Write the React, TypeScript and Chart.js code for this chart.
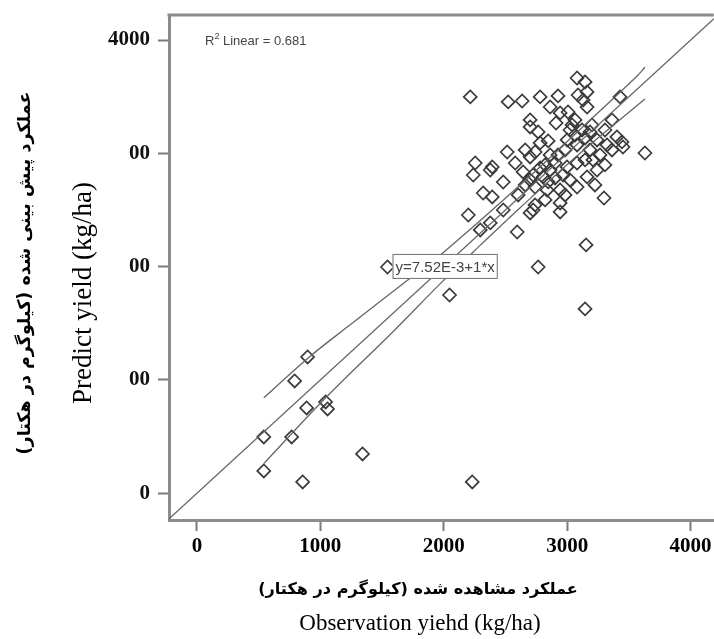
import React, { useEffect, useRef } from "react";
import { Chart, registerables } from "chart.js";

Chart.register(...registerables);

// ---- axis ticks ----
const xTicks = [0, 1000, 2000, 3000, 4000];
const xTickLabels = ["0", "1000", "2000", "3000", "4000"];
const yTicks = [0, 1000, 2000, 3000, 4000];
const yTickLabels = ["0", "00", "00", "00", "4000"];

// ---- observed (x) vs predicted (y) yield, kg/ha ----
const obsX = [
  542, 542, 768, 857, 889, 792, 897, 1043, 1059, 1342, 2231, 1544, 2047, 2765, 3153, 3145, 3298, 3630, 2595, 2215,
  2522, 2635, 2781, 2926, 3080, 3145, 3161, 3129, 3161, 2862, 2943, 3007, 2700, 2700, 2765, 3428, 3363, 3444,
  2514, 2255, 2239, 2377, 2579, 2660, 2700, 2482, 2320, 2393, 2199, 2724, 2943, 2943, 2643, 2724, 2805, 2862,
  2999, 3080, 3145, 3209, 3242, 3161, 3080, 2943, 2837, 2740, 3023, 3120, 3185, 3000, 3080, 3242, 3323, 3403,
  3452, 2296, 2377, 2926, 2862, 2740, 2821, 2902, 2660, 2781, 2983, 3064, 2482, 2700, 2740, 3306, 3088, 2393,
  3064, 3145, 3040, 3201, 2781, 2846, 2700, 2902, 2967, 3023, 3185, 3266, 2603, 2821, 2983, 3225, 3306, 3363,
  2910, 2846,
];
const predY = [
  497, 197, 497, 100, 753, 991, 1203, 806, 744, 347, 100, 1997, 1750, 1997, 2192, 1627, 2606, 3003, 2306, 3498,
  3454, 3462, 3498, 3507, 3665, 3630, 3542, 3471, 3409, 3409, 3357, 3365, 3295, 3233, 3189, 3498, 3295, 3101,
  3012, 2915, 2809, 2853, 2915, 3030, 2968, 2747, 2650, 2615, 2456, 2500, 2483, 2562, 2836, 2809, 2792, 2853,
  2880, 2915, 2942, 2942, 2853, 2792, 2703, 2677, 2677, 2703, 3206, 3206, 3189, 3118, 3074, 3118, 3074, 3145,
  3056, 2324, 2386, 2986, 2986, 3012, 2898, 2783, 2721, 3092, 3030, 3295, 2500, 2474, 2545, 3206, 3515, 2880,
  3162, 3136, 3251, 3251, 2871, 2748, 2765, 2915, 2809, 2765, 3030, 2986, 2633, 2589, 2633, 2721, 2898, 3030,
  3268, 3110,
];

// ---- fitted line y = 7.52E-3 + 1*x ----
const fitX = [-240, 4260];
const fitY = [-240, 4260];

// ---- confidence band curves ----
const upperX = [542, 897, 1221, 1706, 1997, 2619, 3104, 3565, 3630];
const upperY = [842, 1190, 1470, 1880, 2125, 2720, 3210, 3680, 3760];
const lowerX = [542, 1059, 1593, 1972, 2239, 2619, 3104, 3630];
const lowerY = [262, 860, 1430, 1850, 2130, 2520, 3000, 3480];

// ---- texts ----
const xTitleFa = "عملکرد مشاهده شده (کیلوگرم در هکتار)";
const xTitleEn = "Observation yiehd (kg/ha)";
const yTitleFa = "عملکرد پیش بینی شده (کیلوگرم در هکتار)";
const yTitleEn = "Predict yield (kg/ha)";
const r2Label = "R";
const r2Sup = "2";
const r2Rest = " Linear = 0.681";
const eqText = "y=7.52E-3+1*x";

const serif = '"Liberation Serif", "Times New Roman", serif';
const sans = '"Liberation Sans", Arial, sans-serif';
const faFont = '"DejaVu Sans", sans-serif';

const pts = (xs: number[], ys: number[]) => xs.map((x, i) => ({ x, y: ys[i] }));

const decorPlugin = {
  id: "decor",
  afterDatasetsDraw(chart: any) {
    const { ctx, scales } = chart;
    ctx.save();
    // regression equation label box
    const bx = scales.x.getPixelForValue(1585);
    const by = scales.y.getPixelForValue(2002);
    ctx.font = `15px ${sans}`;
    const w = ctx.measureText(eqText).width;
    ctx.fillStyle = "#fff";
    ctx.strokeStyle = "#6e6e6e";
    ctx.lineWidth = 1;
    ctx.fillRect(bx, by - 12.5, w + 6, 25);
    ctx.strokeRect(bx + 0.5, by - 12, w + 5, 24);
    ctx.fillStyle = "#444";
    ctx.textAlign = "left";
    ctx.textBaseline = "middle";
    ctx.fillText(eqText, bx + 3, by + 1);
    ctx.restore();
  },
  afterDraw(chart: any) {
    const { ctx, chartArea } = chart;
    ctx.save();
    // top frame line
    ctx.strokeStyle = "#8c8c8c";
    ctx.lineWidth = 3;
    ctx.beginPath();
    ctx.moveTo(chartArea.left - 1.5, chartArea.top);
    ctx.lineTo(chartArea.right, chartArea.top);
    ctx.stroke();

    // R2 label
    ctx.fillStyle = "#444";
    ctx.textBaseline = "alphabetic";
    ctx.textAlign = "left";
    ctx.font = `13px ${sans}`;
    let tx = chartArea.left + 36;
    ctx.fillText(r2Label, tx, 45);
    tx += ctx.measureText(r2Label).width;
    ctx.font = `9px ${sans}`;
    ctx.fillText(r2Sup, tx, 39);
    tx += ctx.measureText(r2Sup).width;
    ctx.font = `13px ${sans}`;
    ctx.fillText(r2Rest, tx, 45);

    // titles
    ctx.fillStyle = "#000";
    ctx.textAlign = "center";
    ctx.textBaseline = "middle";

    const fitFa = (text: string, target: number) => {
      ctx.font = `bold 20px ${faFont}`;
      const w = ctx.measureText(text).width;
      const size = Math.min(26, (20 * target) / w);
      ctx.font = `bold ${size}px ${faFont}`;
    };

    // x titles
    ctx.direction = "rtl";
    fitFa(xTitleFa, 320);
    ctx.fillText(xTitleFa, 418, 590);
    ctx.direction = "ltr";
    ctx.font = `23px ${serif}`;
    ctx.fillText(xTitleEn, 420, 624);

    // y titles
    ctx.save();
    ctx.translate(25, 273);
    ctx.rotate(-Math.PI / 2);
    ctx.direction = "rtl";
    fitFa(yTitleFa, 363);
    ctx.fillText(yTitleFa, 0, 0);
    ctx.restore();

    ctx.save();
    ctx.translate(84, 293);
    ctx.rotate(-Math.PI / 2);
    ctx.direction = "ltr";
    ctx.font = `27px ${serif}`;
    ctx.fillText(yTitleEn, 0, 0);
    ctx.restore();

    ctx.restore();
  },
};

export default function App() {
  const ref = useRef<HTMLCanvasElement>(null);

  useEffect(() => {
    const canvas = ref.current;
    if (!canvas) return;
    const lineDs = (data: { x: number; y: number }[], tension: number) => ({
      data,
      showLine: true,
      borderColor: "#666",
      borderWidth: 1.3,
      pointRadius: 0,
      pointHoverRadius: 0,
      fill: false,
      tension,
    });
    const chart = new Chart(canvas, {
      type: "scatter",
      data: {
        datasets: [
          lineDs(pts(fitX, fitY), 0) as any,
          lineDs(pts(upperX, upperY), 0.35) as any,
          lineDs(pts(lowerX, lowerY), 0.35) as any,
          {
            data: pts(obsX, predY),
            pointStyle: "rectRot",
            pointRadius: 6.5,
            pointHoverRadius: 6.5,
            borderColor: "#3c3c3c",
            backgroundColor: "rgba(255,255,255,0)",
            pointBorderWidth: 1.7,
            borderWidth: 1.7,
            showLine: false,
          } as any,
        ],
      },
      options: {
        responsive: false,
        animation: false,
        devicePixelRatio: 1,
        events: [],
        layout: { padding: { top: 15, left: 0, right: 0, bottom: 0 } },
        plugins: { legend: { display: false }, tooltip: { enabled: false } },
        scales: {
          x: {
            type: "linear",
            min: -226,
            max: 4188,
            afterBuildTicks: (s: any) => {
              s.ticks = xTicks.map((v) => ({ value: v }));
            },
            afterFit: (s: any) => {
              s.height = 119;
              s.paddingRight = 0;
              s.paddingLeft = 0;
            },
            ticks: {
              callback: (_v: any, i: number) => xTickLabels[i],
              font: { family: serif, size: 21, weight: "bold" },
              color: "#000",
              padding: 3,
              maxRotation: 0,
              autoSkip: false,
            },
            grid: {
              drawOnChartArea: false,
              drawTicks: true,
              tickLength: 11,
              tickColor: "#7a7a7a",
              tickWidth: 2,
            },
            border: { display: true, color: "#8c8c8c", width: 3 },
          },
          y: {
            type: "linear",
            min: -236,
            max: 4221,
            afterBuildTicks: (s: any) => {
              s.ticks = yTicks.map((v) => ({ value: v }));
            },
            afterFit: (s: any) => {
              s.width = 169;
              s.paddingTop = 0;
              s.paddingBottom = 0;
            },
            ticks: {
              callback: (_v: any, i: number) => yTickLabels[i],
              font: { family: serif, size: 21, weight: "bold" },
              color: "#111",
              padding: 8,
              autoSkip: false,
            },
            grid: {
              drawOnChartArea: false,
              drawTicks: true,
              tickLength: 11,
              tickColor: "#7a7a7a",
              tickWidth: 2,
            },
            border: { display: true, color: "#8c8c8c", width: 3 },
          },
        },
      } as any,
      plugins: [decorPlugin],
    });
    return () => chart.destroy();
  }, []);

  // canvas is slightly wider than the page so the plot frame runs off the right edge, as in the reference
  return (
    <div style={{ position: "absolute", left: 0, top: 0, width: 714, height: 639, overflow: "hidden", background: "#fff" }}>
      <canvas ref={ref} width={722} height={639} style={{ display: "block" }} />
    </div>
  );
}
